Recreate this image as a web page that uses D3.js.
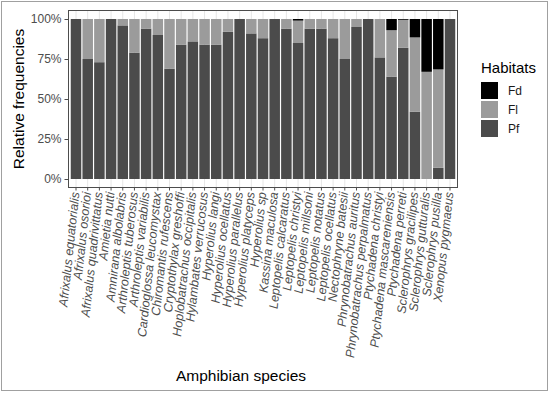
<!DOCTYPE html>
<html>
<head>
<meta charset="utf-8">
<script src="https://cdn.jsdelivr.net/npm/d3@7"></script>
<style>
  body { margin: 0; background: #fff; }
  text { font-family: "Liberation Sans", Arial, sans-serif; }
</style>
</head>
<body>
<div class="canvas"></div>
<script>
// species on the x axis
const species = [
    'Afrixalus equatorialis', 'Afrixalus osorioi', 'Afrixalus quadrivittatus', 'Amietia nutti',
    'Amnirana albolabris', 'Arthroleptis tuberosus', 'Arthroleptis variabilis', 'Cardioglossa leucomystax',
    'Chiromantis rufescens', 'Cryptothylax greshoffi', 'Hoplobatrachus occipitalis', 'Hylambates verrucosus',
    'Hyperolius langi', 'Hyperolius ocellatus', 'Hyperolius parallelus', 'Hyperolius platyceps',
    'Hyperolius sp', 'Kassina maculosa', 'Leptopelis calcaratus', 'Leptopelis christyi',
    'Leptopelis millsoni', 'Leptopelis notatus', 'Leptopelis ocellatus', 'Nectophryne batesii',
    'Phrynobatrachus auritus', 'Phrynobatrachus perpalmatus', 'Ptychadena christyi', 'Ptychadena mascareniensis',
    'Ptychadena perreti', 'Sclerophrys gracilipes', 'Sclerophrys gutturalis', 'Sclerophrys pusilla',
    'Xenopus pygmaeus'
];

// relative frequencies (%) per habitat
const pf = [100, 75, 73, 100, 96, 79, 94, 90, 69, 84, 86, 84, 84, 92, 100, 91, 88, 100, 94, 85,
    94, 94, 88, 75, 95, 100, 76, 64, 82, 42, 0, 7, 100];
const fl = [0, 25, 27, 0, 4, 21, 6, 10, 31, 16, 14, 16, 16, 8, 0, 9, 12, 0, 6, 14,
    6, 6, 12, 25, 5, 0, 24, 29, 17.5, 46.5, 67, 61.5, 0];
const fd = [0, 0, 0, 0, 0, 0, 0, 0, 0, 0, 0, 0, 0, 0, 0, 0, 0, 0, 0, 1,
    0, 0, 0, 0, 0, 0, 0, 7, 0.5, 11.5, 33, 31.5, 0];

const habitats = ['Fd', 'Fl', 'Pf'];
const yTicks = [0, 0.25, 0.5, 0.75, 1];

const colors = { Fd: '#000000', Fl: '#9b9b9b', Pf: '#4b4b4b' };

const width = 550, height = 393;
const panel = { left: 69, right: 457, top: 11, bottom: 187 };

const svg = d3.select('.canvas')
    .append('svg')
    .attr('width', width)
    .attr('height', height);

// outer frame of the picture
svg.append('rect')
    .attr('x', 1.5).attr('y', 1.5)
    .attr('width', width - 4).attr('height', height - 4)
    .attr('fill', 'none')
    .attr('stroke', '#a0a0a0');

const data = species.map((s, i) => ({ name: s, Pf: pf[i] / 100, Fl: fl[i] / 100, Fd: fd[i] / 100 }));
// Pf at the bottom, then Fl, then Fd
const stack = d3.stack().keys(['Pf', 'Fl', 'Fd']);
const series = stack(data);

const x = d3.scaleBand()
    .domain(species)
    .range([panel.left, panel.right])
    .paddingInner(0.1)
    .paddingOuter(0.15);

const y = d3.scaleLinear()
    .domain([0, 1])
    .range([179, 19]);

// vertical grid lines
svg.append('g')
    .selectAll('line')
    .data(species)
    .enter()
    .append('line')
    .attr('x1', d => x(d) + x.bandwidth() / 2)
    .attr('x2', d => x(d) + x.bandwidth() / 2)
    .attr('y1', panel.top)
    .attr('y2', panel.bottom)
    .attr('stroke', '#e6e6e6')
    .attr('stroke-width', 1);

// bars
const layers = svg.append('g')
    .selectAll('g')
    .data(series)
    .enter()
    .append('g')
    .attr('fill', d => colors[d.key]);

layers.selectAll('rect')
    .data(d => d)
    .enter()
    .append('rect')
    .attr('x', d => x(d.data.name))
    .attr('width', x.bandwidth())
    .attr('y', d => y(d[1]))
    .attr('height', d => y(d[0]) - y(d[1]));

// panel border
svg.append('rect')
    .attr('x', panel.left - 0.5)
    .attr('y', panel.top - 0.5)
    .attr('width', panel.right - panel.left + 1)
    .attr('height', panel.bottom - panel.top + 1)
    .attr('fill', 'none')
    .attr('stroke', '#4d4d4d')
    .attr('stroke-width', 1);

// axes
const yAxis = d3.axisLeft(y)
    .tickValues(yTicks)
    .tickSize(4)
    .tickPadding(3)
    .tickFormat(d3.format('.0%'));

const yAxisGroup = svg.append('g')
    .attr('transform', `translate(${panel.left - 0.5}, 0)`)
    .call(yAxis);
yAxisGroup.select('.domain').remove();
yAxisGroup.selectAll('line').attr('stroke', '#4d4d4d');
yAxisGroup.selectAll('text')
    .attr('font-size', 12)
    .attr('fill', '#4d4d4d')
    .style('font-family', '"Liberation Sans", Arial, sans-serif');

const xAxis = d3.axisBottom(x).tickSize(3).tickFormat('');
const xAxisGroup = svg.append('g')
    .attr('transform', `translate(0, ${panel.bottom + 0.5})`)
    .call(xAxis);
xAxisGroup.select('.domain').remove();
xAxisGroup.selectAll('line').attr('stroke', '#4d4d4d');

svg.append('g')
    .selectAll('text')
    .data(species)
    .enter()
    .append('text')
    .attr('transform', d => `translate(${x(d) + x.bandwidth() / 2 - 1}, ${panel.bottom + 5}) rotate(-84)`)
    .attr('text-anchor', 'end')
    .attr('dy', '0.35em')
    .attr('font-size', 12.5)
    .attr('font-style', 'italic')
    .attr('fill', '#4d4d4d')
    .text(d => d);

// axis titles
svg.append('text')
    .attr('transform', `translate(24, ${(panel.top + panel.bottom) / 2}) rotate(-90)`)
    .attr('text-anchor', 'middle')
    .attr('font-size', 15.5)
    .attr('fill', '#000')
    .text('Relative frequencies');

svg.append('text')
    .attr('x', 241)
    .attr('y', 381)
    .attr('text-anchor', 'middle')
    .attr('font-size', 15.5)
    .attr('fill', '#000')
    .text('Amphibian species');

// legend
const legend = svg.append('g').attr('transform', 'translate(481, 0)');
legend.append('text')
    .attr('x', 0)
    .attr('y', 73)
    .attr('font-size', 15)
    .attr('fill', '#000')
    .text('Habitats');

const keys = legend.selectAll('g.key')
    .data(habitats)
    .enter()
    .append('g')
    .attr('class', 'key')
    .attr('transform', (d, i) => `translate(0, ${82 + i * 19})`);

keys.append('rect')
    .attr('width', 17)
    .attr('height', 17)
    .attr('fill', d => colors[d]);

keys.append('text')
    .attr('x', 27)
    .attr('y', 13)
    .attr('font-size', 12)
    .attr('fill', '#1a1a1a')
    .text(d => d);
</script>
</body>
</html>
